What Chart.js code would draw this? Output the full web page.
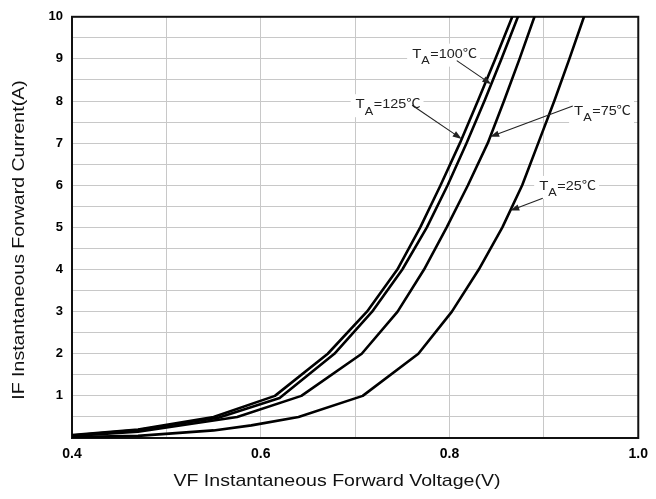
<!DOCTYPE html>
<html>
<head>
<meta charset="utf-8">
<script src="https://cdn.jsdelivr.net/npm/chart.js@4/dist/chart.umd.min.js"></script>
<style>
html,body{margin:0;padding:0;background:#fff;}
#wrap{width:656px;height:499px;position:relative;}
</style>
</head>
<body>
<div id="wrap"><canvas id="c" width="656" height="499"></canvas></div>
<script>
// ---------- data ----------
const seriesNames = ['TA=125℃', 'TA=100℃', 'TA=75℃', 'TA=25℃'];

const vf125 = [0.40, 0.47, 0.55, 0.615, 0.671, 0.7125, 0.7447, 0.769, 0.7905, 0.811, 0.830, 0.8485, 0.8665];
const if125 = [0.07, 0.20, 0.50, 1.00, 2, 3, 4, 5, 6, 7, 8, 9, 10];

const vf100 = [0.40, 0.47, 0.555, 0.62, 0.678, 0.718, 0.750, 0.776, 0.798, 0.818, 0.837, 0.855, 0.8725];
const if100 = [0.06, 0.19, 0.48, 0.95, 2, 3, 4, 5, 6, 7, 8, 9, 10];

const vf75 = [0.40, 0.47, 0.575, 0.643, 0.707, 0.745, 0.773, 0.797, 0.8195, 0.8405, 0.8577, 0.8742, 0.890];
const if75 = [0.05, 0.15, 0.50, 1.00, 2, 3, 4, 5, 6, 7, 8, 9, 10];

const vf25 = [0.40, 0.47, 0.55, 0.59, 0.64, 0.708, 0.767, 0.8025, 0.831, 0.856, 0.877, 0.894, 0.911, 0.927, 0.9425];
const if25 = [0.02, 0.05, 0.18, 0.30, 0.50, 1.00, 2, 3, 4, 5, 6, 7, 8, 9, 10];

const xTickLabels = ['0.4', '0.6', '0.8', '1.0'];
const yTickLabels = ['1', '2', '3', '4', '5', '6', '7', '8', '9', '10'];
const xAxisTitle = 'VF Instantaneous Forward Voltage(V)';
const yAxisTitle = 'IF Instantaneous Forward Current(A)';

// annotation labels: text parts + where the arrow touches its curve (current value on that series)
const annoSeries = [1, 0, 2, 3];
const annoMain = ['T', 'T', 'T', 'T'];
const annoSub = ['A', 'A', 'A', 'A'];
const annoRest = ['=100℃', '=125℃', '=75℃', '=25℃'];
const annoTipCurrent = [8.40, 7.10, 7.15, 5.40];

// ---------- layout / style (not data) ----------
const annoLayout = [
  {lx: 0.7604, ly: 9.03, tx: 0.8077, ty: 8.96},
  {lx: 0.7005, ly: 7.83, tx: 0.7604, ty: 7.90},
  {lx: 0.9320, ly: 7.67, tx: 0.9306, ty: 7.88},
  {lx: 0.8950, ly: 5.89, tx: 0.8988, ty: 5.69}
];
const FONT = "'Liberation Sans', Arial, Helvetica, 'Noto Sans CJK SC', sans-serif";
const STRETCH = 1.15;

function toXY(vs, is) { return vs.map((v, k) => ({x: v, y: is[k]})); }
const seriesV = [vf125, vf100, vf75, vf25];
const seriesI = [if125, if100, if75, if25];

const datasets = seriesNames.map((name, k) => ({
  label: name,
  data: toXY(seriesV[k], seriesI[k]),
  borderColor: '#000',
  backgroundColor: '#000',
  borderWidth: 2.6,
  pointRadius: 0,
  tension: 0,
  fill: false,
  borderJoinStyle: 'round',
  borderCapStyle: 'round'
}));

function voltageAt(k, cur) {
  const vs = seriesV[k], is = seriesI[k];
  for (let j = 1; j < vs.length; j++) {
    if (cur >= is[j - 1] && cur <= is[j]) {
      const t = (cur - is[j - 1]) / (is[j] - is[j - 1]);
      return vs[j - 1] + t * (vs[j] - vs[j - 1]);
    }
  }
  return vs[vs.length - 1];
}

const bgPlugin = {
  id: 'bg',
  beforeDraw(chart) {
    const c = chart.ctx;
    c.save();
    c.fillStyle = '#fff';
    c.fillRect(0, 0, chart.width, chart.height);
    c.restore();
  }
};

const framePlugin = {
  id: 'frame',
  beforeDatasetsDraw(chart) {
    const a = chart.chartArea, c = chart.ctx;
    c.save();
    c.strokeStyle = '#111';
    c.lineWidth = 2;
    c.strokeRect(a.left, a.top, a.right - a.left, a.bottom - a.top);
    c.restore();
  }
};

const titlesPlugin = {
  id: 'titles',
  afterDraw(chart) {
    const c = chart.ctx;
    c.save();
    c.fillStyle = '#111';
    c.font = '17px ' + FONT;
    c.textAlign = 'center';
    c.textBaseline = 'alphabetic';
    // x title
    c.save();
    c.translate(337, 486);
    c.scale(STRETCH, 1);
    c.fillText(xAxisTitle, 0, 0);
    c.restore();
    // y title
    c.save();
    c.translate(24, 240);
    c.rotate(-Math.PI / 2);
    c.scale(STRETCH, 1);
    c.fillText(yAxisTitle, 0, 0);
    c.restore();
    c.restore();
  }
};

const annoPlugin = {
  id: 'anno',
  afterDatasetsDraw(chart) {
    const c = chart.ctx, xs = chart.scales.x, ys = chart.scales.y;
    annoSeries.forEach((k, n) => {
      const L = annoLayout[n];
      const px = xs.getPixelForValue(L.lx), py = ys.getPixelForValue(L.ly);
      c.save();
      c.font = '13px ' + FONT;
      const w1 = c.measureText(annoMain[n]).width;
      c.font = '11px ' + FONT;
      const w2 = c.measureText(annoSub[n]).width;
      c.font = '12.5px ' + FONT;
      const w3 = c.measureText(annoRest[n]).width;
      const total = (w1 + w2 + w3 + 0.5) * STRETCH;
      c.fillStyle = '#fff';
      c.fillRect(px - 5, py - 14, total + 8, 23);
      c.translate(px, py);
      c.scale(STRETCH, 1);
      c.fillStyle = '#222';
      c.textAlign = 'left';
      c.textBaseline = 'alphabetic';
      c.font = '13px ' + FONT;
      c.fillText(annoMain[n], 0, 0);
      c.font = '11px ' + FONT;
      c.fillText(annoSub[n], w1, 6.5);
      c.font = '12.5px ' + FONT;
      c.fillText(annoRest[n], w1 + w2 + 0.5, 0);
      c.restore();

      // arrow
      const tx = xs.getPixelForValue(L.tx), ty = ys.getPixelForValue(L.ty);
      const hx = xs.getPixelForValue(voltageAt(k, annoTipCurrent[n]));
      const hy = ys.getPixelForValue(annoTipCurrent[n]);
      const ang = Math.atan2(hy - ty, hx - tx);
      const hl = 9, hw = 3.2;
      c.save();
      c.strokeStyle = '#222';
      c.fillStyle = '#222';
      c.lineWidth = 1.1;
      c.beginPath();
      c.moveTo(tx, ty);
      c.lineTo(hx - Math.cos(ang) * hl * 0.8, hy - Math.sin(ang) * hl * 0.8);
      c.stroke();
      c.beginPath();
      c.moveTo(hx, hy);
      c.lineTo(hx - Math.cos(ang) * hl - Math.sin(ang) * hw, hy - Math.sin(ang) * hl + Math.cos(ang) * hw);
      c.lineTo(hx - Math.cos(ang) * hl + Math.sin(ang) * hw, hy - Math.sin(ang) * hl - Math.cos(ang) * hw);
      c.closePath();
      c.fill();
      c.restore();
    });
  }
};

new Chart(document.getElementById('c'), {
  type: 'line',
  data: {datasets},
  options: {
    responsive: false,
    animation: false,
    events: [],
    layout: {padding: {left: 0, right: 13, top: 14, bottom: 0}},
    plugins: {legend: {display: false}, tooltip: {enabled: false}, title: {display: false}},
    scales: {
      x: {
        type: 'linear',
        min: 0.4,
        max: 1.0,
        ticks: {
          stepSize: 0.1,
          autoSkip: false,
          maxRotation: 0,
          padding: 8,
          color: '#000',
          font: {family: FONT, size: 14, weight: 'bold'},
          callback(v) {
            const k = Math.round(v * 10);
            return k % 2 === 0 ? xTickLabels[(k - 4) / 2] : '';
          }
        },
        grid: {color: '#c8c8c8', lineWidth: 1, drawTicks: false},
        border: {display: false},
        afterFit(s) { s.height = 61; }
      },
      y: {
        type: 'linear',
        min: 0,
        max: 10,
        ticks: {
          stepSize: 0.5,
          autoSkip: false,
          padding: 9,
          color: '#000',
          font: {family: FONT, size: 13, weight: 'bold'},
          callback(v) {
            const r = Math.round(v);
            return (Math.abs(v - r) < 1e-6 && r >= 1) ? yTickLabels[r - 1] : '';
          }
        },
        grid: {color: '#c8c8c8', lineWidth: 1, drawTicks: false},
        border: {display: false},
        afterFit(s) { s.width = 72; }
      }
    }
  },
  plugins: [bgPlugin, framePlugin, annoPlugin, titlesPlugin]
});
</script>
</body>
</html>
